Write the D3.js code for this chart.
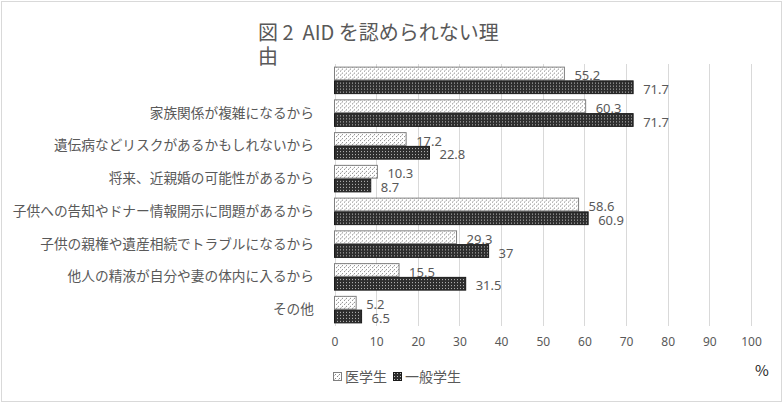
<!DOCTYPE html>
<html>
<head>
<meta charset="utf-8">
<script src="https://cdn.jsdelivr.net/npm/d3@7"></script>
<style>
  body { margin: 0; background: #fff; }
  text { font-family: "Noto Sans CJK JP", "Noto Sans", sans-serif; fill: #595959; }
</style>
</head>
<body>
<div id="chart"></div>
<script>
var categories = ["", "家族関係が複雑になるから", "遺伝病などリスクがあるかもしれないから", "将来、近親婚の可能性があるから",
  "子供への告知やドナー情報開示に問題があるから", "子供の親権や遺産相続でトラブルになるから",
  "他人の精液が自分や妻の体内に入るから", "その他"];
var seriesNames = ["医学生", "一般学生"];
var medicalValues = [55.2, 60.3, 17.2, 10.3, 58.6, 29.3, 15.5, 5.2];
var generalValues = [71.7, 71.7, 22.8, 8.7, 60.9, 37, 31.5, 6.5];
var xTicks = [0, 10, 20, 30, 40, 50, 60, 70, 80, 90, 100];

var width = 784, height = 404;
var svg = d3.select("#chart").append("svg")
            .attr("width", width)
            .attr("height", height);

var defs = svg.append("defs");
var light = defs.append("pattern").attr("id", "pat-light")
                .attr("width", 4).attr("height", 4).attr("patternUnits", "userSpaceOnUse");
light.append("rect").attr("width", 4).attr("height", 4).attr("fill", "#ffffff");
light.append("rect").attr("x", 0).attr("y", 0).attr("width", 1).attr("height", 1).attr("fill", "#8a8a8a");
light.append("rect").attr("x", 2).attr("y", 2).attr("width", 1).attr("height", 1).attr("fill", "#8a8a8a");
light.append("rect").attr("x", 1).attr("y", 3).attr("width", 1).attr("height", 1).attr("fill", "#c8c8c8");

var dark = defs.append("pattern").attr("id", "pat-dark")
               .attr("width", 3).attr("height", 3).attr("patternUnits", "userSpaceOnUse");
dark.append("rect").attr("width", 3).attr("height", 3).attr("fill", "#2e2e2e");
dark.append("rect").attr("x", 1).attr("y", 1).attr("width", 1).attr("height", 1).attr("fill", "#bdbdbd");

var fills = ["url(#pat-light)", "url(#pat-dark)"];
var strokes = ["#7f7f7f", "#1a1a1a"];

// outer frame
svg.append("rect")
   .attr("x", 1.5).attr("y", 1.5)
   .attr("width", width - 4).attr("height", height - 4)
   .attr("fill", "none").attr("stroke", "#d9d9d9");

var x = d3.scaleLinear().domain([0, 100]).range([334.5, 751]);
var y = d3.scaleBand().domain(categories).range([64, 326]).paddingInner(0.16).paddingOuter(0.08);
var y1 = d3.scaleBand().domain(seriesNames).range([0, y.bandwidth()]);

// grid
svg.append("g").selectAll("line")
   .data(xTicks)
   .enter().append("line")
   .attr("x1", function (d) { return Math.round(x(d)) + 0.5; })
   .attr("x2", function (d) { return Math.round(x(d)) + 0.5; })
   .attr("y1", 64).attr("y2", 326)
   .style("stroke", "#d9d9d9").style("stroke-width", 1);

var xAxis = svg.append("g")
               .attr("transform", "translate(0,326)")
               .call(d3.axisBottom(x).tickValues(xTicks).tickSize(0).tickPadding(11));
xAxis.select(".domain").remove();
xAxis.selectAll("text").style("font-size", "12px").style("fill", "#595959")
     .style("font-family", "'Noto Sans', sans-serif");

var yAxis = svg.append("g")
               .attr("transform", "translate(314,0)")
               .call(d3.axisLeft(y).tickSize(0).tickPadding(0));
yAxis.select(".domain").remove();
yAxis.selectAll("text").style("font-size", "13.7px").style("fill", "#595959")
     .style("font-family", "'Noto Sans CJK JP', sans-serif");

var rows = categories.map(function (c, i) {
  return { cat: c, vals: [medicalValues[i], generalValues[i]] };
});

var groups = svg.selectAll("g.row")
                .data(rows)
                .enter().append("g")
                .attr("class", "row")
                .attr("transform", function (d) { return "translate(0," + y(d.cat) + ")"; });

var bars = groups.selectAll("rect")
                 .data(function (d) { return d.vals.map(function (v, i) { return { s: i, v: v }; }); })
                 .enter().append("rect")
                 .attr("x", x(0))
                 .attr("y", function (d) { return y1(seriesNames[d.s]) + 0.5; })
                 .attr("width", function (d) { return x(d.v) - x(0); })
                 .attr("height", y1.bandwidth() - 1)
                 .style("fill", function (d) { return fills[d.s]; })
                 .style("stroke", function (d) { return strokes[d.s]; })
                 .style("stroke-width", 1);

groups.selectAll("text.val")
      .data(function (d) { return d.vals.map(function (v, i) { return { s: i, v: v }; }); })
      .enter().append("text")
      .attr("class", "val")
      .attr("x", function (d) { return x(d.v) + 10; })
      .attr("y", function (d) { return y1(seriesNames[d.s]) + y1.bandwidth() / 2 + 2; })
      .attr("dy", "0.35em")
      .style("font-size", "13px")
      .style("font-family", "'Noto Sans', sans-serif")
      .text(function (d) { return d.v; });

// title, wrapped like the original
var title = svg.append("text")
               .attr("x", 258).attr("y", 40)
               .style("white-space", "pre")
               .style("font-size", "20px")
               .style("fill", "#595959");
title.append("tspan").attr("x", 258).attr("dy", 0).text("図 2  AID を認められない理");
title.append("tspan").attr("x", 258).attr("dy", 24).text("由");

// legend
var legend = svg.selectAll("g.legend")
                .data(seriesNames)
                .enter().append("g")
                .attr("class", "legend")
                .attr("transform", function (d, i) { return "translate(" + (333 + i * 60) + ",372)"; });
legend.append("rect")
      .attr("x", 0.5).attr("y", 0.5).attr("width", 8).attr("height", 8)
      .style("fill", function (d, i) { return fills[i]; })
      .style("stroke", function (d, i) { return strokes[i]; });
legend.append("text")
      .attr("x", 12).attr("y", 5)
      .attr("dy", "0.35em")
      .style("font-size", "14px")
      .text(function (d) { return d; });

svg.append("text")
   .attr("x", 755).attr("y", 376)
   .style("font-size", "15px")
   .style("fill", "#262626")
   .text("%");
</script>
</body>
</html>
